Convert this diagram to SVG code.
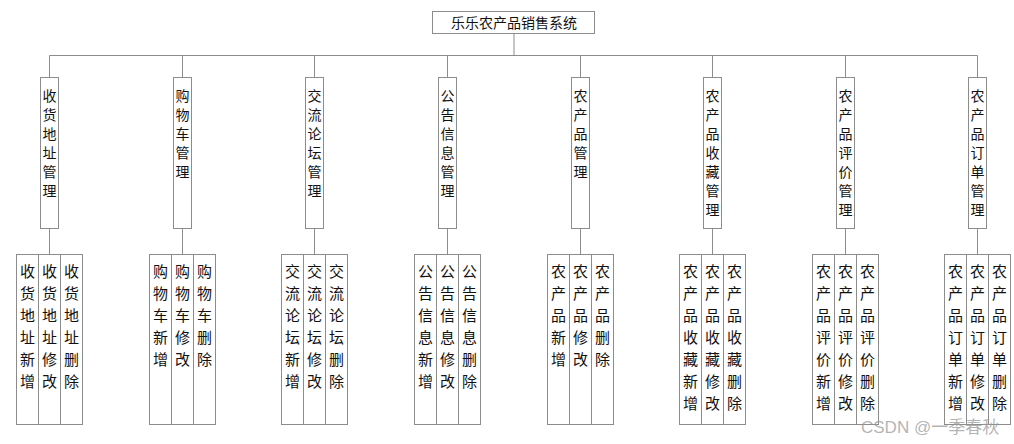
<svg xmlns="http://www.w3.org/2000/svg" width="1014" height="444" viewBox="0 0 1014 444">
<style>
.box{fill:#fff;stroke:#8c8c8c;stroke-width:1}
.ln{fill:none;stroke:#8c8c8c;stroke-width:1}
.t{font-family:"Noto Sans CJK SC","Noto Sans",sans-serif;fill:#111;text-anchor:middle}
.m{font-size:14px}
.b{font-size:15px}
.wm{font-family:"Liberation Sans","Noto Sans CJK SC",sans-serif;font-size:17px;fill:#9a9a9a;fill-opacity:0.75}
</style>
<rect width="1014" height="444" fill="#fff"/>
<g id="connectors">
<path class="ln" d="M514 33.5V55.5M49.5 55.5H977.5"/>
<path class="ln" d="M49.5 55.5V77.5M182.5 55.5V77.5M314.5 55.5V77.5M447.5 55.5V77.5M580.5 55.5V77.5M712.5 55.5V77.5M845.5 55.5V77.5M977.5 55.5V77.5"/>
<path class="ln" d="M49.5 228.5V254.5M182.5 228.5V254.5M314.5 228.5V254.5M447.5 228.5V254.5M580.5 228.5V254.5M712.5 228.5V254.5M845.5 228.5V254.5M977.5 228.5V254.5"/>
</g>
<g id="root">
<rect class="box" x="432.5" y="11.5" width="162" height="22"/>
<text class="t" x="514" y="27.5" font-size="14">乐乐农产品销售系统</text>
</g>
<g id="n1">
<rect class="box" x="40.5" y="77.5" width="18" height="151"/>
<text class="t m"><tspan x="49.5" y="101">收</tspan><tspan x="49.5" dy="19">货</tspan><tspan x="49.5" dy="19">地</tspan><tspan x="49.5" dy="19">址</tspan><tspan x="49.5" dy="19">管</tspan><tspan x="49.5" dy="19">理</tspan></text>
</g>
<g id="n1c">
<rect class="box" x="16.5" y="254.5" width="66" height="170"/>
<path class="ln" d="M38.5 254.5V424.5M60.5 254.5V424.5"/>
<text class="t b"><tspan x="27.5" y="277">收</tspan><tspan x="27.5" dy="22">货</tspan><tspan x="27.5" dy="22">地</tspan><tspan x="27.5" dy="22">址</tspan><tspan x="27.5" dy="22">新</tspan><tspan x="27.5" dy="22">增</tspan></text>
<text class="t b"><tspan x="49.5" y="277">收</tspan><tspan x="49.5" dy="22">货</tspan><tspan x="49.5" dy="22">地</tspan><tspan x="49.5" dy="22">址</tspan><tspan x="49.5" dy="22">修</tspan><tspan x="49.5" dy="22">改</tspan></text>
<text class="t b"><tspan x="71.5" y="277">收</tspan><tspan x="71.5" dy="22">货</tspan><tspan x="71.5" dy="22">地</tspan><tspan x="71.5" dy="22">址</tspan><tspan x="71.5" dy="22">删</tspan><tspan x="71.5" dy="22">除</tspan></text>
</g>
<g id="n2">
<rect class="box" x="173.5" y="77.5" width="18" height="151"/>
<text class="t m"><tspan x="182.5" y="101">购</tspan><tspan x="182.5" dy="19">物</tspan><tspan x="182.5" dy="19">车</tspan><tspan x="182.5" dy="19">管</tspan><tspan x="182.5" dy="19">理</tspan></text>
</g>
<g id="n2c">
<rect class="box" x="149.5" y="254.5" width="66" height="170"/>
<path class="ln" d="M171.5 254.5V424.5M193.5 254.5V424.5"/>
<text class="t b"><tspan x="160.5" y="277">购</tspan><tspan x="160.5" dy="22">物</tspan><tspan x="160.5" dy="22">车</tspan><tspan x="160.5" dy="22">新</tspan><tspan x="160.5" dy="22">增</tspan></text>
<text class="t b"><tspan x="182.5" y="277">购</tspan><tspan x="182.5" dy="22">物</tspan><tspan x="182.5" dy="22">车</tspan><tspan x="182.5" dy="22">修</tspan><tspan x="182.5" dy="22">改</tspan></text>
<text class="t b"><tspan x="204.5" y="277">购</tspan><tspan x="204.5" dy="22">物</tspan><tspan x="204.5" dy="22">车</tspan><tspan x="204.5" dy="22">删</tspan><tspan x="204.5" dy="22">除</tspan></text>
</g>
<g id="n3">
<rect class="box" x="305.5" y="77.5" width="18" height="151"/>
<text class="t m"><tspan x="314.5" y="101">交</tspan><tspan x="314.5" dy="19">流</tspan><tspan x="314.5" dy="19">论</tspan><tspan x="314.5" dy="19">坛</tspan><tspan x="314.5" dy="19">管</tspan><tspan x="314.5" dy="19">理</tspan></text>
</g>
<g id="n3c">
<rect class="box" x="281.5" y="254.5" width="66" height="170"/>
<path class="ln" d="M303.5 254.5V424.5M325.5 254.5V424.5"/>
<text class="t b"><tspan x="292.5" y="277">交</tspan><tspan x="292.5" dy="22">流</tspan><tspan x="292.5" dy="22">论</tspan><tspan x="292.5" dy="22">坛</tspan><tspan x="292.5" dy="22">新</tspan><tspan x="292.5" dy="22">增</tspan></text>
<text class="t b"><tspan x="314.5" y="277">交</tspan><tspan x="314.5" dy="22">流</tspan><tspan x="314.5" dy="22">论</tspan><tspan x="314.5" dy="22">坛</tspan><tspan x="314.5" dy="22">修</tspan><tspan x="314.5" dy="22">改</tspan></text>
<text class="t b"><tspan x="336.5" y="277">交</tspan><tspan x="336.5" dy="22">流</tspan><tspan x="336.5" dy="22">论</tspan><tspan x="336.5" dy="22">坛</tspan><tspan x="336.5" dy="22">删</tspan><tspan x="336.5" dy="22">除</tspan></text>
</g>
<g id="n4">
<rect class="box" x="438.5" y="77.5" width="18" height="151"/>
<text class="t m"><tspan x="447.5" y="101">公</tspan><tspan x="447.5" dy="19">告</tspan><tspan x="447.5" dy="19">信</tspan><tspan x="447.5" dy="19">息</tspan><tspan x="447.5" dy="19">管</tspan><tspan x="447.5" dy="19">理</tspan></text>
</g>
<g id="n4c">
<rect class="box" x="414.5" y="254.5" width="66" height="170"/>
<path class="ln" d="M436.5 254.5V424.5M458.5 254.5V424.5"/>
<text class="t b"><tspan x="425.5" y="277">公</tspan><tspan x="425.5" dy="22">告</tspan><tspan x="425.5" dy="22">信</tspan><tspan x="425.5" dy="22">息</tspan><tspan x="425.5" dy="22">新</tspan><tspan x="425.5" dy="22">增</tspan></text>
<text class="t b"><tspan x="447.5" y="277">公</tspan><tspan x="447.5" dy="22">告</tspan><tspan x="447.5" dy="22">信</tspan><tspan x="447.5" dy="22">息</tspan><tspan x="447.5" dy="22">修</tspan><tspan x="447.5" dy="22">改</tspan></text>
<text class="t b"><tspan x="469.5" y="277">公</tspan><tspan x="469.5" dy="22">告</tspan><tspan x="469.5" dy="22">信</tspan><tspan x="469.5" dy="22">息</tspan><tspan x="469.5" dy="22">删</tspan><tspan x="469.5" dy="22">除</tspan></text>
</g>
<g id="n5">
<rect class="box" x="571.5" y="77.5" width="18" height="151"/>
<text class="t m"><tspan x="580.5" y="101">农</tspan><tspan x="580.5" dy="19">产</tspan><tspan x="580.5" dy="19">品</tspan><tspan x="580.5" dy="19">管</tspan><tspan x="580.5" dy="19">理</tspan></text>
</g>
<g id="n5c">
<rect class="box" x="547.5" y="254.5" width="66" height="170"/>
<path class="ln" d="M569.5 254.5V424.5M591.5 254.5V424.5"/>
<text class="t b"><tspan x="558.5" y="277">农</tspan><tspan x="558.5" dy="22">产</tspan><tspan x="558.5" dy="22">品</tspan><tspan x="558.5" dy="22">新</tspan><tspan x="558.5" dy="22">增</tspan></text>
<text class="t b"><tspan x="580.5" y="277">农</tspan><tspan x="580.5" dy="22">产</tspan><tspan x="580.5" dy="22">品</tspan><tspan x="580.5" dy="22">修</tspan><tspan x="580.5" dy="22">改</tspan></text>
<text class="t b"><tspan x="602.5" y="277">农</tspan><tspan x="602.5" dy="22">产</tspan><tspan x="602.5" dy="22">品</tspan><tspan x="602.5" dy="22">删</tspan><tspan x="602.5" dy="22">除</tspan></text>
</g>
<g id="n6">
<rect class="box" x="703.5" y="77.5" width="18" height="151"/>
<text class="t m"><tspan x="712.5" y="101">农</tspan><tspan x="712.5" dy="19">产</tspan><tspan x="712.5" dy="19">品</tspan><tspan x="712.5" dy="19">收</tspan><tspan x="712.5" dy="19">藏</tspan><tspan x="712.5" dy="19">管</tspan><tspan x="712.5" dy="19">理</tspan></text>
</g>
<g id="n6c">
<rect class="box" x="679.5" y="254.5" width="66" height="170"/>
<path class="ln" d="M701.5 254.5V424.5M723.5 254.5V424.5"/>
<text class="t b"><tspan x="690.5" y="277">农</tspan><tspan x="690.5" dy="22">产</tspan><tspan x="690.5" dy="22">品</tspan><tspan x="690.5" dy="22">收</tspan><tspan x="690.5" dy="22">藏</tspan><tspan x="690.5" dy="22">新</tspan><tspan x="690.5" dy="22">增</tspan></text>
<text class="t b"><tspan x="712.5" y="277">农</tspan><tspan x="712.5" dy="22">产</tspan><tspan x="712.5" dy="22">品</tspan><tspan x="712.5" dy="22">收</tspan><tspan x="712.5" dy="22">藏</tspan><tspan x="712.5" dy="22">修</tspan><tspan x="712.5" dy="22">改</tspan></text>
<text class="t b"><tspan x="734.5" y="277">农</tspan><tspan x="734.5" dy="22">产</tspan><tspan x="734.5" dy="22">品</tspan><tspan x="734.5" dy="22">收</tspan><tspan x="734.5" dy="22">藏</tspan><tspan x="734.5" dy="22">删</tspan><tspan x="734.5" dy="22">除</tspan></text>
</g>
<g id="n7">
<rect class="box" x="836.5" y="77.5" width="18" height="151"/>
<text class="t m"><tspan x="845.5" y="101">农</tspan><tspan x="845.5" dy="19">产</tspan><tspan x="845.5" dy="19">品</tspan><tspan x="845.5" dy="19">评</tspan><tspan x="845.5" dy="19">价</tspan><tspan x="845.5" dy="19">管</tspan><tspan x="845.5" dy="19">理</tspan></text>
</g>
<g id="n7c">
<rect class="box" x="812.5" y="254.5" width="66" height="170"/>
<path class="ln" d="M834.5 254.5V424.5M856.5 254.5V424.5"/>
<text class="t b"><tspan x="823.5" y="277">农</tspan><tspan x="823.5" dy="22">产</tspan><tspan x="823.5" dy="22">品</tspan><tspan x="823.5" dy="22">评</tspan><tspan x="823.5" dy="22">价</tspan><tspan x="823.5" dy="22">新</tspan><tspan x="823.5" dy="22">增</tspan></text>
<text class="t b"><tspan x="845.5" y="277">农</tspan><tspan x="845.5" dy="22">产</tspan><tspan x="845.5" dy="22">品</tspan><tspan x="845.5" dy="22">评</tspan><tspan x="845.5" dy="22">价</tspan><tspan x="845.5" dy="22">修</tspan><tspan x="845.5" dy="22">改</tspan></text>
<text class="t b"><tspan x="867.5" y="277">农</tspan><tspan x="867.5" dy="22">产</tspan><tspan x="867.5" dy="22">品</tspan><tspan x="867.5" dy="22">评</tspan><tspan x="867.5" dy="22">价</tspan><tspan x="867.5" dy="22">删</tspan><tspan x="867.5" dy="22">除</tspan></text>
</g>
<g id="n8">
<rect class="box" x="968.5" y="77.5" width="18" height="151"/>
<text class="t m"><tspan x="977.5" y="101">农</tspan><tspan x="977.5" dy="19">产</tspan><tspan x="977.5" dy="19">品</tspan><tspan x="977.5" dy="19">订</tspan><tspan x="977.5" dy="19">单</tspan><tspan x="977.5" dy="19">管</tspan><tspan x="977.5" dy="19">理</tspan></text>
</g>
<g id="n8c">
<rect class="box" x="944.5" y="254.5" width="66" height="170"/>
<path class="ln" d="M966.5 254.5V424.5M988.5 254.5V424.5"/>
<text class="t b"><tspan x="955.5" y="277">农</tspan><tspan x="955.5" dy="22">产</tspan><tspan x="955.5" dy="22">品</tspan><tspan x="955.5" dy="22">订</tspan><tspan x="955.5" dy="22">单</tspan><tspan x="955.5" dy="22">新</tspan><tspan x="955.5" dy="22">增</tspan></text>
<text class="t b"><tspan x="977.5" y="277">农</tspan><tspan x="977.5" dy="22">产</tspan><tspan x="977.5" dy="22">品</tspan><tspan x="977.5" dy="22">订</tspan><tspan x="977.5" dy="22">单</tspan><tspan x="977.5" dy="22">修</tspan><tspan x="977.5" dy="22">改</tspan></text>
<text class="t b"><tspan x="999.5" y="277">农</tspan><tspan x="999.5" dy="22">产</tspan><tspan x="999.5" dy="22">品</tspan><tspan x="999.5" dy="22">订</tspan><tspan x="999.5" dy="22">单</tspan><tspan x="999.5" dy="22">删</tspan><tspan x="999.5" dy="22">除</tspan></text>
</g>
<text class="wm" x="861" y="433">CSDN @一季春秋</text>
</svg>
